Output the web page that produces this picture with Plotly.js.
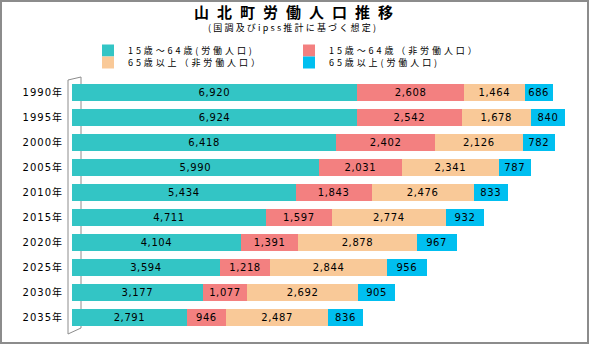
<!DOCTYPE html>
<html><head><meta charset="utf-8">
<script src="https://cdn.plot.ly/plotly-3.0.1.min.js"></script>
<style>
html,body{margin:0;padding:0;background:#fff;}
#chart{width:589px;height:344px;}
.gtitle{letter-spacing:8px;}
.annotation-text{letter-spacing:2.2px;}
.bartext{letter-spacing:0.6px;}
.ytick text{letter-spacing:1px;}
text.legendtext{letter-spacing:2.9px;}
</style>
</head><body>
<div id="chart"></div>
<script>
const years = ['1990年','1995年','2000年','2005年','2010年','2015年','2020年','2025年','2030年','2035年'];
const seriesNames = ['15歳～64歳(労働人口)','15歳～64歳（非労働人口）','65歳以上（非労働人口）','65歳以上(労働人口)'];
const workAge = [6920,6924,6418,5990,5434,4711,4104,3594,3177,2791];
const workAgeNon = [2608,2542,2402,2031,1843,1597,1391,1218,1077,946];
const elderNon = [1464,1678,2126,2341,2476,2774,2878,2844,2692,2487];
const elderWork = [686,840,782,787,833,932,967,956,905,836];
const colors = ['#33C5C5','#F38080','#F9C998','#00BFF0'];

const W=589,H=344,ml=72,mr=23,mt=80,mb=14;
const pw=W-ml-mr, ph=H-mt-mb;
const px=p=>(p-ml)/pw, py=p=>1-(p-mt)/ph;

const vals=[workAge,workAgeNon,elderNon,elderWork];
const legendOf=['legend','legend','legend2','legend2'];
const traces=vals.map((v,i)=>({
  type:'bar',orientation:'h',name:seriesNames[i],y:years,x:v,legend:legendOf[i],
  marker:{color:colors[i]},
  texttemplate:'%{x:,}',textposition:'inside',insidetextanchor:'middle',
  textangle:0,constraintext:'none',
  textfont:{family:'DejaVu Sans',size:10,color:'#000'},
  hoverinfo:'skip'
}));

const grey='#8c8c8c';
const legBase={orientation:'h',xanchor:'left',yanchor:'top',xref:'paper',yref:'paper',
  entrywidth:156,entrywidthmode:'pixels',font:{family:'Noto Sans CJK JP',size:9,color:'#000'},
  traceorder:'normal',itemwidth:30,bgcolor:'rgba(0,0,0,0)'};
const layout={
  width:W,height:H,margin:{l:ml,r:mr,t:mt,b:mb},
  paper_bgcolor:'#fff',plot_bgcolor:'rgba(0,0,0,0)',
  barmode:'stack',bargap:0.34,showlegend:true,
  font:{family:'DejaVu Sans, Noto Sans CJK JP',color:'#000'},
  title:{text:'<b>山北町労働人口推移</b>',x:297.5/W,xref:'container',xanchor:'center',y:1-12.5/H,yref:'container',yanchor:'middle',
    font:{family:'Noto Sans CJK JP',size:15,color:'#000'}},
  annotations:[{text:'(国調及びipss推計に基づく想定)',xref:'paper',yref:'paper',x:px(292.6),y:py(27),
    xanchor:'center',yanchor:'middle',showarrow:false,font:{family:'Noto Sans CJK JP',size:9,color:'#000'}}],
  xaxis:{range:[0,12000],showgrid:false,zeroline:false,showticklabels:false,showline:false,ticks:''},
  yaxis:{autorange:'reversed',showgrid:false,zeroline:false,showline:false,ticks:'',ticklabelstandoff:8,
    tickfont:{family:'DejaVu Sans, Noto Sans CJK JP',size:10,color:'#000'}},
  legend:Object.assign({},legBase,{x:px(88),y:py(36)}),
  legend2:Object.assign({},legBase,{x:px(88),y:py(48)}),
  shapes:[
    {type:'rect',xref:'paper',yref:'paper',x0:px(1),x1:px(588),y0:py(1),y1:py(343),line:{color:grey,width:2},layer:'below'},
    {type:'line',xref:'paper',yref:'paper',x0:px(68),x1:px(68),y0:py(80),y1:py(334),line:{color:grey,width:1},layer:'below'},
    {type:'line',xref:'paper',yref:'paper',x0:px(68),x1:px(81),y0:py(80),y1:py(77),line:{color:grey,width:1},layer:'below'},
    {type:'line',xref:'paper',yref:'paper',x0:px(81),x1:px(81),y0:py(77),y1:py(328),line:{color:grey,width:1},layer:'below'},
    {type:'line',xref:'paper',yref:'paper',x0:px(68),x1:px(81),y0:py(334),y1:py(328),line:{color:grey,width:1},layer:'below'}
  ]
};
const gd=document.getElementById('chart');
function spaceLegend(){
  gd.querySelectorAll('text').forEach(t=>{
    if(seriesNames.indexOf(t.textContent)>=0){t.style.letterSpacing='2.9px';}
  });
}
Plotly.newPlot(gd,traces,layout,{displayModeBar:false,staticPlot:true}).then(()=>{
  spaceLegend();
  gd.on('plotly_afterplot',spaceLegend);
  setTimeout(spaceLegend,50);
});
</script>
</body></html>
